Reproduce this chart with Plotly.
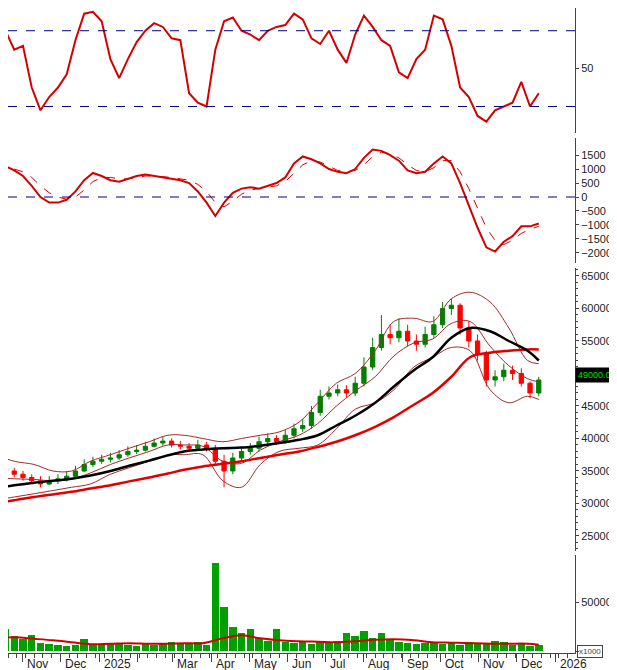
import plotly.graph_objects as go
import pandas as pd

weeks = pd.date_range("2024-10-11", periods=63, freq="7D")
opens = [36000,35500,35000,34500,34000,33500,33000,33500,33800,34200,35000,36000,36500,36800,37000,37500,38000,38200,38800,39300,39600,39000,38800,38500,39000,38500,36500,35000,37000,38000,38500,39500,40000,39500,40500,41500,42000,44000,46500,47000,47500,47000,48500,51000,54000,56000,55500,56500,55000,54500,56000,57500,60000,60500,57000,55000,53000,49000,49500,50500,50000,48500,47000]
highs = [36800,36000,35500,35000,34500,34200,34200,34500,35000,35800,36800,37200,37500,37800,38200,38800,39000,39500,40000,40300,40000,39600,39300,39800,39500,39000,37500,37800,38800,39300,40300,40800,40500,41300,42300,43000,45000,47500,48000,48300,48200,49500,52500,55500,59000,57500,58500,57500,56000,57200,58800,61000,61500,60800,58000,56000,53500,50500,51500,51200,50800,48800,49500]
lows = [35000,34500,34000,33500,33000,32500,32800,33000,33400,34000,34800,35600,36100,36300,36700,37200,37600,38000,38600,38900,38600,38300,38000,38200,38000,35800,32500,34500,36500,37500,38000,39000,39000,39200,40000,41000,41500,43500,46000,46500,46300,46500,48000,50500,53500,54500,54800,54200,53500,54000,55500,57000,59000,56000,54000,52000,48000,48000,48800,49000,48000,46200,46500]
closes = [35500,35000,34500,34000,33500,33000,33500,33800,34200,35000,36000,36500,36800,37000,37500,38000,38200,38800,39300,39600,39000,38800,38500,39000,38500,36500,35000,37000,38000,38500,39500,40000,39500,40500,41500,42000,44000,46500,47000,47500,47000,48500,51000,54000,56000,55500,56500,55000,54500,56000,57500,60000,60500,57000,55000,53000,49000,49500,50500,50000,48500,47000,49000]
volume = [14000,22000,15000,12000,16000,8000,7000,6000,5000,6000,12000,7000,6000,8000,7000,6000,5000,7000,6000,7000,9000,7000,8000,9000,6000,90000,45000,25000,18000,22000,13000,10000,22000,9000,8000,10000,7000,9000,8000,10000,18000,15000,20000,13000,18000,11000,9000,8000,7000,8000,9000,7000,8000,6000,9000,7000,8000,10000,9000,6000,7000,5000,6000]
rsi = [77,70,60,62,40,28,35,40,47,65,79,80,75,55,45,55,64,70,74,72,66,65,37,32,30,60,75,77,70,68,65,70,72,73,79,76,66,63,70,60,53,68,78,72,65,62,48,45,55,60,78,76,62,40,35,25,22,28,30,32,43,30,37]
macd = [1040,1100,950,750,400,0,-200,-200,-100,200,600,860,750,600,550,650,750,800,750,700,650,600,500,200,-200,-680,-200,150,300,350,300,400,500,700,1200,1450,1350,1200,1000,900,850,1000,1400,1700,1650,1500,1300,950,850,900,1200,1450,1200,500,-300,-1100,-1800,-1950,-1600,-1400,-1050,-1050,-950]
signal = [900,1000,1000,900,700,400,150,0,-80,0,250,550,700,700,650,650,700,750,750,730,700,650,600,450,200,-200,-350,-150,100,250,300,350,400,550,850,1150,1300,1250,1100,950,900,950,1150,1450,1600,1550,1400,1150,950,900,1050,1300,1300,900,300,-400,-1100,-1550,-1700,-1550,-1300,-1150,-1050]

line_dates = ["2024-10-10","2024-10-25","2024-11-10","2024-11-25","2024-12-10","2024-12-25","2025-01-10","2025-01-25","2025-02-10","2025-02-25","2025-03-10","2025-03-25","2025-04-10","2025-04-25","2025-05-10","2025-05-25","2025-06-10","2025-06-25","2025-07-10","2025-07-25","2025-08-10","2025-08-25","2025-09-10","2025-09-25","2025-10-10","2025-10-25","2025-11-10","2025-11-25","2025-12-10","2025-12-19"]
ma_black = [32300,32800,33200,33500,33800,34300,35000,35800,36600,37400,38000,38300,38500,38600,38900,39300,39800,40500,42000,43500,45500,48000,50500,52500,55500,57000,56500,55000,53500,52000]
ma_red = [30000,30500,31000,31400,31800,32300,32800,33400,34000,34600,35200,35700,36100,36500,37000,37500,38000,38700,39500,40500,41800,43300,45200,47000,49500,52500,53200,53500,53700,53700]
bb_upper = [37500,36500,36000,35000,35000,36500,37500,38500,39500,40500,40500,40000,39500,40000,40500,41000,42500,45500,48500,50000,53500,58000,58500,58000,61500,62500,61000,57000,52000,51500]
bb_mid = [34000,33800,33700,33500,33800,34700,36000,37000,38000,39000,39000,38800,36500,36200,38200,39500,40500,42300,45000,47300,49500,52700,54700,55300,57700,58000,54200,51200,49200,48700]
bb_lower = [30500,31000,31500,32000,32500,33000,34500,35500,36500,37500,37500,37500,33500,32500,36000,38000,38500,39000,41500,44500,45500,47500,51000,52500,54000,53500,47500,45500,46500,46000]
vol_ma = [13000,14000,12500,11000,9000,7000,7500,8000,7500,7500,8000,8000,13000,16000,13000,11000,10000,9500,9000,10000,11500,12000,11000,9000,8500,8000,7500,7500,7500,6500]

month_ticks = pd.date_range("2024-10-01", "2026-01-01", freq="MS")
month_labels = ["Oct","Nov","Dec","2025","","Mar","Apr","May","Jun","Jul","Aug","Sep","Oct","Nov","Dec","2026"]
price_ticks = list(range(25000, 65001, 5000))
price_labels = ["" if v == 50000 else str(v) for v in price_ticks]

RED = "#d40000"
fig = go.Figure()
fig.add_trace(go.Scatter(x=weeks[:len(rsi)], y=rsi, mode="lines", line=dict(color=RED, width=2), xaxis="x", yaxis="y"))
fig.add_trace(go.Scatter(x=weeks[:len(signal)], y=signal, mode="lines", line=dict(color=RED, width=1, dash="dash"), xaxis="x", yaxis="y2"))
fig.add_trace(go.Scatter(x=weeks[:len(macd)], y=macd, mode="lines", line=dict(color=RED, width=2), xaxis="x", yaxis="y2"))
for arr in (bb_upper, bb_mid, bb_lower):
    fig.add_trace(go.Scatter(x=line_dates, y=arr, mode="lines", line=dict(color="#a52a2a", width=1, shape="spline"), xaxis="x", yaxis="y3"))
fig.add_trace(go.Scatter(x=line_dates, y=ma_red, mode="lines", line=dict(color="#e00000", width=2.5, shape="spline"), xaxis="x", yaxis="y3"))
fig.add_trace(go.Scatter(x=line_dates, y=ma_black, mode="lines", line=dict(color="black", width=2.5, shape="spline"), xaxis="x", yaxis="y3"))
fig.add_trace(go.Candlestick(x=weeks, open=opens, high=highs, low=lows, close=closes,
    increasing=dict(line=dict(color="#008000", width=1), fillcolor="#008000"),
    decreasing=dict(line=dict(color="#ff0000", width=1), fillcolor="#ff0000"),
    whiskerwidth=0, xaxis="x", yaxis="y3"))
fig.add_trace(go.Bar(x=weeks, y=volume, marker=dict(color="#00a000", line=dict(width=0)), width=6*86400000, xaxis="x", yaxis="y4"))
fig.add_trace(go.Scatter(x=line_dates, y=vol_ma, mode="lines", line=dict(color=RED, width=2, shape="spline"), xaxis="x", yaxis="y4"))

H = 645.0
def dom(top, bot):
    return [1 - bot / H, 1 - top / H]

axcommon = dict(side="right", showgrid=False, zeroline=False, showline=True, linecolor="#444", mirror=True,
                ticks="outside", ticklen=3, tickcolor="#444", tickformat="d", tickfont=dict(size=11, color="#222"))
fig.update_layout(
    width=617, height=670, margin=dict(l=0, r=50, t=0, b=25),
    paper_bgcolor="white", plot_bgcolor="white", showlegend=False,
    font=dict(family="Liberation Sans, Arial", size=12, color="#222"),
    bargap=0,
    xaxis=dict(range=["2024-10-20", "2026-01-17"], showgrid=False, showline=True, linecolor="#444", mirror=False,
               tickvals=month_ticks, ticktext=[""] * len(month_ticks), ticks="outside", ticklen=8, tickcolor="#444",
               anchor="y4", rangeslider=dict(visible=False),
               minor=dict(dtick=7 * 86400000, ticks="outside", ticklen=4, tickcolor="#444")),
    yaxis=dict(domain=dom(0, 125), range=[16, 82], tickvals=[50], anchor="x", **axcommon),
    yaxis2=dict(domain=dom(130, 255), range=[-2360, 2110], tickvals=list(range(-2000, 1501, 500)), anchor="x", **axcommon),
    yaxis3=dict(domain=dom(260, 543), range=[22690, 66230], tickvals=price_ticks, ticktext=price_labels, anchor="x",
                minor=dict(dtick=1000, ticks="outside", ticklen=2, tickcolor="#444"), **axcommon),
    yaxis4=dict(domain=dom(547, 645), range=[-2000, 98000], tickvals=[0, 50000], ticktext=["", "50000"], anchor="x", **axcommon),
)
for yv in (70, 30):
    fig.add_shape(type="line", xref="paper", x0=0, x1=1, yref="y", y0=yv, y1=yv, line=dict(color="#000080", width=1, dash="dash"))
fig.add_shape(type="line", xref="paper", x0=0, x1=1, yref="y2", y0=0, y1=0, line=dict(color="#000080", width=1, dash="dash"))
for d, t in zip(month_ticks, month_labels):
    if t:
        fig.add_annotation(x=d + pd.Timedelta(days=2), xref="x", y=0, yref="paper", yshift=-2, text=t, showarrow=False,
                           xanchor="left", yanchor="top", font=dict(size=12, color="#222"))
fig.add_annotation(xref="paper", x=1.0, xanchor="left", yref="y3", y=49700, text="49000.00", showarrow=False,
                   bgcolor="black", font=dict(color="#00e000", size=9), xshift=0, borderpad=2)
fig.add_annotation(xref="paper", x=1.0, xanchor="left", yref="y4", y=0, yanchor="middle", text="x1000", showarrow=False,
                   bordercolor="#444", borderwidth=1, font=dict(size=8, color="#444"), xshift=2)
fig.add_annotation(xref="paper", x=1.0, xanchor="left", yref="y4", y=0, yanchor="middle", text="0", showarrow=False,
                   font=dict(size=11, color="#222"), xshift=33)
fig.write_html("out.html")
